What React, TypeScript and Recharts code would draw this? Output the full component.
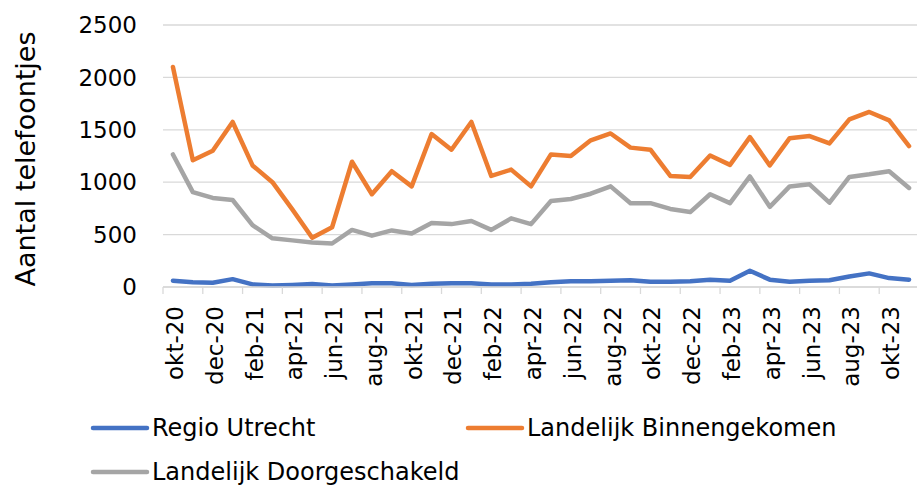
import { CartesianGrid, Line, LineChart, XAxis, YAxis } from "recharts";

const MONTHS = [
  "okt-20", "nov-20", "dec-20", "jan-21", "feb-21", "mrt-21", "apr-21", "mei-21",
  "jun-21", "jul-21", "aug-21", "sep-21", "okt-21", "nov-21", "dec-21", "jan-22",
  "feb-22", "mrt-22", "apr-22", "mei-22", "jun-22", "jul-22", "aug-22", "sep-22",
  "okt-22", "nov-22", "dec-22", "jan-23", "feb-23", "mrt-23", "apr-23", "mei-23",
  "jun-23", "jul-23", "aug-23", "sep-23", "okt-23", "nov-23",
];

const REGIO_UTRECHT = [
  60, 45, 40, 75, 25, 15, 20, 28, 15, 25, 35, 35, 20, 30, 35, 35, 25, 25, 30,
  45, 55, 55, 60, 65, 50, 50, 55, 70, 60, 155, 70, 50, 60, 65, 100, 130, 85, 70,
];

const BINNENGEKOMEN = [
  2100, 1210, 1300, 1575, 1160, 1000, 740, 470, 570, 1195, 885, 1105, 960, 1460,
  1310, 1575, 1060, 1120, 960, 1265, 1250, 1400, 1465, 1330, 1310, 1060, 1050,
  1255, 1165, 1430, 1160, 1420, 1440, 1370, 1600, 1670, 1590, 1345,
];

const DOORGESCHAKELD = [
  1265, 905, 850, 830, 590, 465, 445, 425, 415, 545, 490, 540, 510, 610, 600,
  630, 545, 655, 600, 820, 840, 890, 960, 800, 800, 745, 715, 885, 800, 1055,
  765, 960, 980, 805, 1050, 1075, 1105, 945,
];

const Y_TICKS = [0, 500, 1000, 1500, 2000, 2500];

const SERIES = [
  { key: "regio", name: "Regio Utrecht", color: "#4472C4" },
  { key: "binnen", name: "Landelijk Binnengekomen", color: "#ED7D31" },
  { key: "door", name: "Landelijk Doorgeschakeld", color: "#A5A5A5" },
];

const FONT = "'DejaVu Sans', Verdana, sans-serif";
const GRID = "#D9D9D9";

const data = MONTHS.map((month, i) => ({
  month,
  regio: REGIO_UTRECHT[i],
  binnen: BINNENGEKOMEN[i],
  door: DOORGESCHAKELD[i],
}));

// labels staan verticaal, streepjes op de grens tussen twee maanden (zoals Excel)
function MonthTick(props: any) {
  const { x, y, payload } = props;
  const half = payload?.offset || 9.95;
  return (
    <g>
      <line x1={x - half} x2={x - half} y1={y - 8} y2={y - 1} stroke={GRID} strokeWidth={1.3} />
      <text
        transform={`translate(${x},${y + 11}) rotate(-90)`}
        textAnchor="end"
        dy={10}
        fontSize={23}
        fontFamily={FONT}
        fill="#000"
      >
        {payload.value}
      </text>
    </g>
  );
}

function YTitle() {
  return (
    <text
      transform="translate(26,159) rotate(-90)"
      textAnchor="middle"
      dy="0.35em"
      fontSize={27}
      fontFamily={FONT}
      fill="#000"
    >
      Aantal telefoontjes
    </text>
  );
}

function LegendItem({ name, color }: { name: string; color: string }) {
  return (
    <div style={{ display: "flex", alignItems: "center" }}>
      <svg width={60} height={10} style={{ marginRight: 2 }}>
        <line x1={3} x2={57} y1={5} y2={5} stroke={color} strokeWidth={4.5} strokeLinecap="round" />
      </svg>
      <span>{name}</span>
    </div>
  );
}

export default function App() {
  return (
    <div style={{ position: "absolute", left: 0, top: 0, width: 917, height: 486, background: "#fff", overflow: "hidden" }}>
      <LineChart
        width={917}
        height={486}
        data={data}
        margin={{ top: 25, right: -2, bottom: 0, left: 0 }}
      >
        <CartesianGrid vertical={false} stroke={GRID} strokeWidth={1.3} />
        <XAxis
          dataKey="month"
          scale="band"
          interval={1}
          height={199}
          tickLine={false}
          axisLine={{ stroke: GRID, strokeWidth: 1.3 }}
          tick={<MonthTick />}
        />
        <YAxis
          domain={[0, 2500]}
          ticks={Y_TICKS}
          width={163}
          axisLine={false}
          tickLine={false}
          tickMargin={20}
          tick={{ fontSize: 23, fontFamily: FONT, fill: "#000" }}
          label={{ content: () => <YTitle /> }}
        />
        {SERIES.map((s) => (
          <Line
            key={s.key}
            type="linear"
            dataKey={s.key}
            name={s.name}
            stroke={s.color}
            strokeWidth={4.5}
            strokeLinejoin="round"
            strokeLinecap="round"
            dot={false}
            activeDot={false}
            isAnimationActive={false}
          />
        ))}
      </LineChart>
      <div
        style={{
          position: "absolute",
          left: 0,
          top: 0,
          fontFamily: FONT,
          fontSize: 24,
          color: "#000",
        }}
      >
        <div style={{ position: "absolute", left: 90, top: 414, whiteSpace: "nowrap" }}>
          <LegendItem name={SERIES[0].name} color={SERIES[0].color} />
        </div>
        <div style={{ position: "absolute", left: 465, top: 414, whiteSpace: "nowrap" }}>
          <LegendItem name={SERIES[1].name} color={SERIES[1].color} />
        </div>
        <div style={{ position: "absolute", left: 90, top: 458, whiteSpace: "nowrap" }}>
          <LegendItem name={SERIES[2].name} color={SERIES[2].color} />
        </div>
      </div>
    </div>
  );
}
